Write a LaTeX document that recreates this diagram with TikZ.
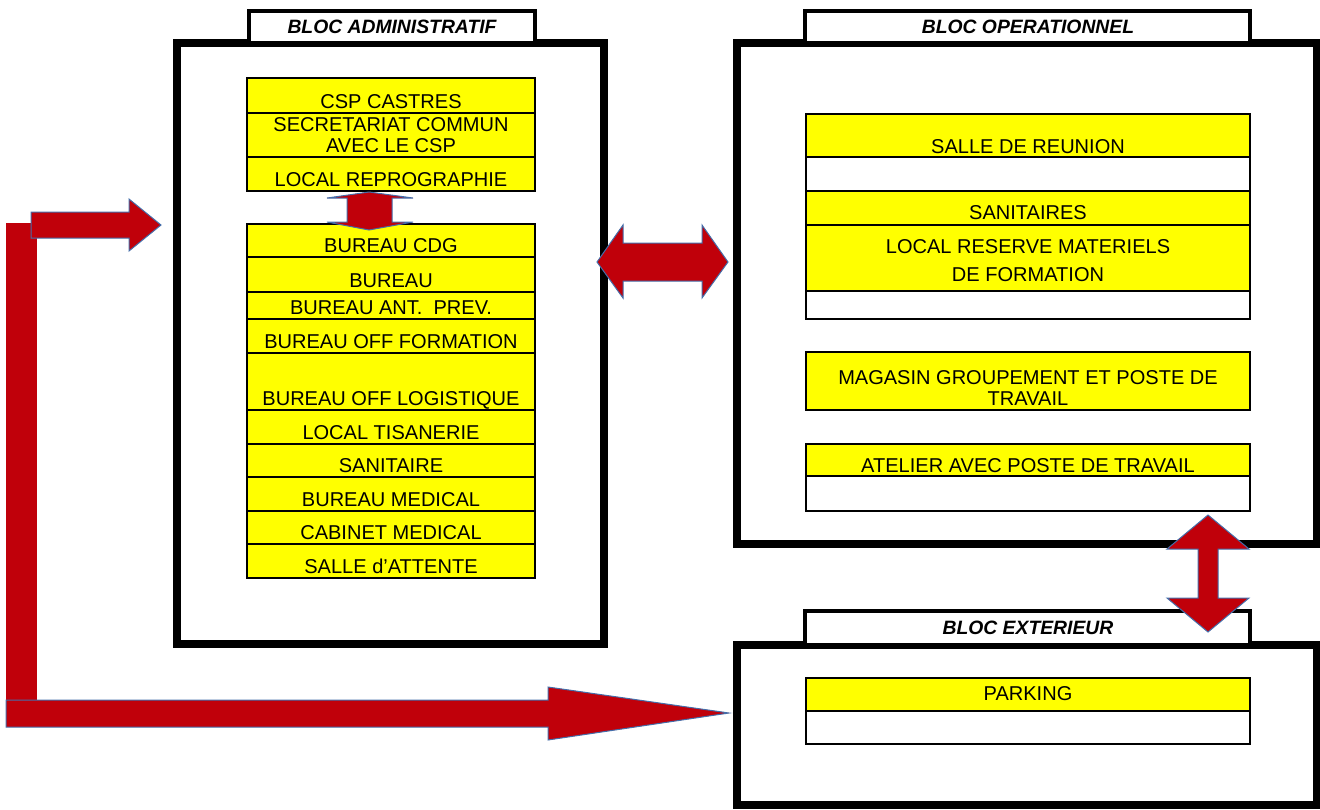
\documentclass[tikz,border=0pt]{standalone}
\usepackage{fontspec}
\setmainfont{Liberation Sans}
\usepackage{tikz}

\definecolor{rouge}{RGB}{192,0,10}
\definecolor{jaune}{RGB}{255,255,0}
\definecolor{contour}{RGB}{68,110,170}

\begin{document}
\begin{tikzpicture}[x=0.02cm, y=-0.02cm,
    bloc/.style={draw, line width=0.16cm},
    onglet/.style={draw, fill=white, line width=0.09cm},
    titre/.style={inner sep=0pt, font=\fontsize{11}{13}\selectfont\bfseries\itshape},
    case/.style={draw, line width=0.04cm},
    piece/.style={inner sep=0pt, text depth=0pt, anchor=south, align=center,
                  font=\fontsize{11.4}{12}\selectfont},
    fleche/.style={fill=rouge, draw=contour, line width=0.02cm}]
  \useasboundingbox (0,0) rectangle (1320,809);

  % les trois blocs
  \draw[bloc] (177,43) rectangle (604,644);
  \draw[bloc] (737,43) rectangle (1317,544);
  \draw[bloc] (737,645) rectangle (1317,805);

  \draw[onglet] (249,11) rectangle (535,43);
  \node[titre] (admin) at (392,27) {BLOC ADMINISTRATIF};
  \draw[onglet] (805,11) rectangle (1250,43);
  \node[titre] (oper) at (1028,27) {BLOC OPERATIONNEL};
  \draw[onglet] (805,611) rectangle (1250,645);
  \node[titre] (ext) at (1028,628) {BLOC EXTERIEUR};

  % bloc administratif
  \foreach \haut/\bas/\nom/\texte in {78/113/csp/{CSP CASTRES},
      113/157/secr/{SECRETARIAT COMMUN\\AVEC LE CSP},
      157/191/repro/{LOCAL REPROGRAPHIE},
      224/257/cdg/{BUREAU CDG},
      257/292/bur/{BUREAU},
      292/319/prev/{BUREAU ANT.\ \ PREV.},
      319/353/form/{BUREAU OFF FORMATION},
      353/410/logi/{BUREAU OFF LOGISTIQUE},
      410/444/tisa/{LOCAL TISANERIE},
      444/477/sani/{SANITAIRE},
      477/511/bmed/{BUREAU MEDICAL},
      511/544/cmed/{CABINET MEDICAL},
      544/578/att/{SALLE d’ATTENTE}}{
    \draw[case, fill=jaune] (247,\haut) rectangle (535,\bas);
    \node[piece] (\nom) at (391,{\bas-4}) {\texte};
  }

  % bloc operationnel
  \draw[case, fill=jaune] (806,114) rectangle (1250,157);
  \node[piece] (reunion) at (1028,154) {SALLE DE REUNION};
  \draw[case] (806,157) rectangle (1250,191);
  \draw[case, fill=jaune] (806,191) rectangle (1250,225);
  \node[piece] (sanis) at (1028,220) {SANITAIRES};
  \draw[case, fill=jaune] (806,225) rectangle (1250,291);
  \node[piece] (reserve) at (1028,282) {LOCAL RESERVE MATERIELS\\[0.14cm]DE FORMATION};
  \draw[case] (806,291) rectangle (1250,319);

  \draw[case, fill=jaune] (806,352) rectangle (1250,410);
  \node[piece] (magasin) at (1028,406) {MAGASIN GROUPEMENT ET POSTE DE\\TRAVAIL};

  \draw[case, fill=jaune] (806,444) rectangle (1250,476);
  \node[piece] (atelier) at (1028,473) {ATELIER AVEC POSTE DE TRAVAIL};
  \draw[case] (806,476) rectangle (1250,511);

  % bloc exterieur
  \draw[case, fill=jaune] (806,678) rectangle (1250,711);
  \node[piece] (parking) at (1028,701) {PARKING};
  \draw[case] (806,711) rectangle (1250,744);

  % fleches
  \draw[fleche] (369,192) -- (413,198) -- (392,198) -- (392,222) -- (413,222)
    -- (369,230) -- (327,222) -- (347,222) -- (347,198) -- (327,198) -- cycle;
  \draw[fleche] (597,262) -- (623,225) -- (623,243) -- (702,243) -- (702,225)
    -- (728,262) -- (702,298) -- (702,281) -- (623,281) -- (623,298) -- cycle;
  \draw[fleche] (1208,515) -- (1249,549) -- (1218,549) -- (1218,598) -- (1249,598)
    -- (1208,632) -- (1167,598) -- (1198,598) -- (1198,549) -- (1167,549) -- cycle;

  \fill[rouge] (6,223) rectangle (37,705);
  \draw[fleche] (31,212) -- (129,212) -- (129,199) -- (161,225) -- (129,251)
    -- (129,238) -- (31,238) -- cycle;
  \draw[fleche] (6,700) -- (548,700) -- (548,687) -- (729,713) -- (548,740)
    -- (548,727) -- (6,727) -- cycle;
\end{tikzpicture}
\end{document}
